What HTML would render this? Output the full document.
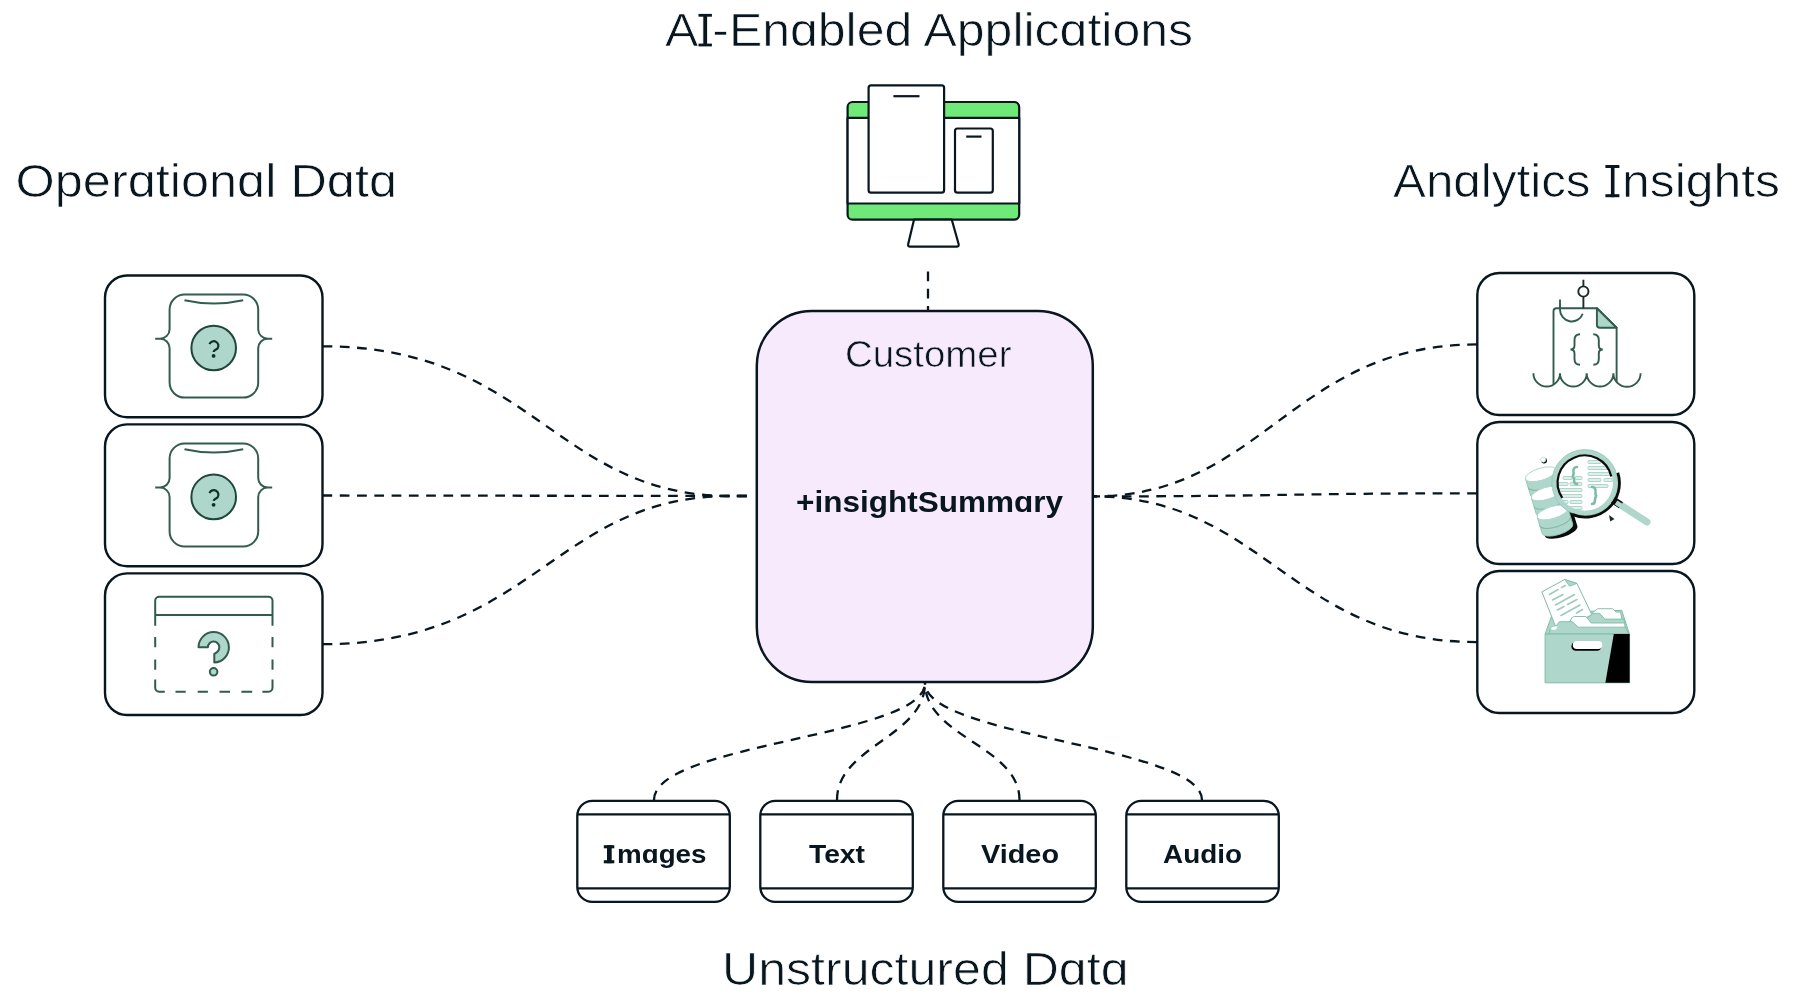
<!DOCTYPE html>
<html><head><meta charset="utf-8">
<style>
html,body{margin:0;padding:0;background:#fff;overflow:hidden;}
svg{display:block;will-change:transform;}
text{font-family:"Liberation Sans",sans-serif;fill:#08161f;}
.lt{stroke:#fff;stroke-width:0.7px;}
.ltp{stroke:#f6eafc;stroke-width:0.6px;}
</style></head>
<body>
<svg width="1794" height="1002" viewBox="0 0 1794 1002">
<!-- titles -->
<text class="lt" x="665" y="46.3" font-size="47" textLength="528" lengthAdjust="spacingAndGlyphs">AI-Enɑbled Applicɑtions</text>
<text class="lt" x="15.5" y="197" font-size="47" textLength="381.5" lengthAdjust="spacingAndGlyphs">Operɑtionɑl Dɑtɑ</text>
<text class="lt" x="1393" y="197.2" font-size="47" textLength="197.5" lengthAdjust="spacingAndGlyphs">Anɑlytics</text>
<text class="lt" x="1622" y="197.2" font-size="47" textLength="158" lengthAdjust="spacingAndGlyphs">nsights</text>
<text class="lt" x="722" y="984.6" font-size="45.3" textLength="406.5" lengthAdjust="spacingAndGlyphs">Unstructured Dɑtɑ</text>

<!-- connectors -->
<g fill="none" stroke="#08161f" stroke-width="2.3" stroke-dasharray="9.7 7.58">
<path d="M322.5,346.3 C532.5,346.3 555,496 730,496 L750,496"/>
<path d="M322.5,495.5 L750,496"/>
<path d="M322.5,644.2 C532.5,644.2 555,496 730,496 L750,496"/>
<path d="M1477,344.4 C1292,344.4 1263,496.4 1093,496.4"/>
<path d="M1477,493.3 C1285,493.3 1285,496.4 1093,496.4"/>
<path d="M1477,642.1 C1292,642.1 1263,496.4 1093,496.4"/>
<path d="M928,271.5 L928,311"/>
<path d="M654,800 C654,743 925,737 925,683"/>
<path d="M837,800 C837,746 925,737 925,683"/>
<path d="M1019.5,800 C1019.5,746 925,737 925,683"/>
<path d="M1202,800 C1202,746 925,737 925,683"/>
</g>

<!-- left boxes -->
<g fill="#fff" stroke="#08161f" stroke-width="2.4">
<rect x="105" y="275.5" width="217.5" height="141.7" rx="22"/>
<rect x="105" y="424.4" width="217.5" height="141.8" rx="22"/>
<rect x="105" y="573.4" width="217.5" height="141.6" rx="22"/>
<rect x="1477.3" y="273" width="217" height="142" rx="22"/>
<rect x="1477.3" y="422" width="217" height="142" rx="22"/>
<rect x="1477.3" y="571" width="217" height="142" rx="22"/>
</g>


<!-- monitor icon -->
<g stroke="#08161f" stroke-width="2.2" stroke-linejoin="round">
<rect x="847.6" y="102" width="171.6" height="117.7" rx="5" fill="#6fe977"/>
<rect x="847.6" y="117.8" width="171.6" height="85.7" fill="#fff"/>
<path d="M914,219.7 L951.8,219.7 L958.6,244 Q959.2,246.6 956.5,246.6 L910.3,246.6 Q907.6,246.6 908.2,244 Z" fill="#fff"/>
<rect x="868.6" y="85.4" width="75.5" height="107.3" rx="2.5" fill="#fff"/>
<path d="M893.4,96.2 H919.5" fill="none"/>
<rect x="955" y="128.5" width="37.8" height="64.2" rx="2.5" fill="#fff"/>
<path d="M966.2,136.6 H981.5" fill="none"/>
</g>

<!-- left icon 1 & 2 : braces -->
<g id="brace1" fill="none" stroke="#335d4f" stroke-width="2">
<path d="M184.6,294.6 H243.2 A15,15 0 0 1 258.2,309.6 V329.2 A9.5,9.5 0 0 0 267.7,338.7 A9.5,9.5 0 0 0 258.2,348.2 V382.6 A15,15 0 0 1 243.2,397.6 H184.6 A15,15 0 0 1 169.6,382.6 V348.2 A9.5,9.5 0 0 0 160.1,338.7 A9.5,9.5 0 0 0 169.6,329.2 V309.6 A15,15 0 0 1 184.6,294.6 Z M155.2,338.7 H160.1 M267.7,338.7 H272.2"/>
<path d="M184.5,300.3 Q213.8,306.9 243.2,300.3"/>
<circle cx="213.7" cy="348" r="22.3" fill="#aed6ca" stroke="#1f463a"/>
<path d="M209.5,344.2 A4.6,4.6 0 1 1 217.3,348.8 Q213.8,350.6 213.7,352" stroke-width="2.2" stroke="#10302a"/>
<circle cx="213.6" cy="355.9" r="1.9" fill="#10302a" stroke="none"/>
</g>
<use href="#brace1" transform="translate(0,148.9)"/>

<!-- left icon 3 : dashed box -->
<g fill="none" stroke="#2f5c4c" stroke-width="2">
<path d="M155.2,625.7 V600.7 A4,4 0 0 1 159.2,596.7 H268.5 A4,4 0 0 1 272.5,600.7 V625.7 M155.2,614.9 H272.5"/>
<path d="M155.2,637 V647.3 M155.2,659.5 V669.8 M272.5,637 V647.3 M272.5,659.5 V669.8 M155.2,679.6 V687.8 A4,4 0 0 0 159.2,691.8 H164.8 M272.5,679.6 V687.8 A4,4 0 0 1 268.5,691.8 H262.4 M175.5,691.8 H185.7 M197.7,691.8 H207.9 M219.5,691.8 H230 M241.4,691.8 H252.2"/>
<path d="M198.5,647.3 A15.2,15.2 0 1 1 214.3,662.5 V654 Q219.3,651.5 219.3,647.3 A5.7,5.7 0 1 0 207.9,647.3 Z" fill="#aed6ca" stroke-linejoin="round"/>
<circle cx="213.6" cy="671.8" r="3.8" fill="#aed6ca"/>
</g>

<!-- right icon 1 : doc with hook -->
<g fill="none" stroke="#2f5c4c" stroke-width="1.9">
<path d="M1553.5,384.6 V311.3 A3,3 0 0 1 1556.5,308.3 H1596.9 L1616.6,327.7 V382"/>
<path d="M1596.9,308.3 V324.7 A3,3 0 0 0 1599.9,327.7 H1616.6 Z" fill="#aed6ca" stroke-linejoin="round"/>
<path d="M1583.4,279.8 V286.4 M1583.4,296.6 V308.3" stroke="#1a2e27"/>
<circle cx="1583.4" cy="291.5" r="5.1" fill="#fff" stroke="#1a2e27"/>
<path d="M1560,299.6 V309.7 A11.7,11.7 0 0 0 1582.7,313.7"/>
<path d="M1580,334.3 Q1574.5,334.3 1574.5,340 V345.5 Q1574.5,349.5 1570.5,349.5 Q1574.5,349.5 1574.5,353.5 V359 Q1574.5,364.8 1580,364.8"/>
<path d="M1593.3,334.3 Q1598.8,334.3 1598.8,340 V345.5 Q1598.8,349.5 1602.8,349.5 Q1598.8,349.5 1598.8,353.5 V359 Q1598.8,364.8 1593.3,364.8"/>
<path d="M1533.4,373.2 A13.3,13.3 0 0 0 1560,373.2 A13.35,13.35 0 0 0 1586.7,373.2 A13.35,13.35 0 0 0 1613.4,373.2 A13.6,13.6 0 0 0 1640.6,373.2"/>
</g>


<!-- right icon 2 : database + magnifier -->
<g>
<!-- small dot -->
<circle cx="1544.1" cy="460.6" r="2.9" fill="#0b0b0b"/>
<circle cx="1543.2" cy="459.6" r="2.6" fill="#fff" stroke="#aed6ca" stroke-width="0.6"/>
<!-- cylinder stack -->
<g transform="rotate(-17 1549 501)">
 <path d="M1533,513 V532 A16,6 0 0 0 1567,532 V513 Z" fill="#0b0b0b" transform="translate(1.8,1.2)"/>
 <g fill="#aed6ca" stroke="#8fc4b2" stroke-width="0.8">
  <path d="M1533,473 V490 A16,6 0 0 0 1565,490 V473 Z"/>
  <path d="M1533,493 V510 A16,6 0 0 0 1565,510 V493 Z"/>
  <path d="M1533,513 V530 A16,6 0 0 0 1565,530 V513 Z"/>
 </g>
 <g fill="none" stroke="#7fb9a5" stroke-width="1">
  <path d="M1533,482 A16,6 0 0 0 1565,482"/>
  <path d="M1533,502 A16,6 0 0 0 1565,502"/>
  <path d="M1533,522 A16,6 0 0 0 1565,522"/>
 </g>
 <g fill="#fff" stroke="#aed6ca" stroke-width="0.9">
  <ellipse cx="1549" cy="473" rx="16" ry="6"/>
  <ellipse cx="1549" cy="493" rx="16" ry="6"/>
  <ellipse cx="1549" cy="513" rx="16" ry="6"/>
 </g>
</g>
<!-- handle -->
<path d="M1613,500 L1647,522" stroke="#aed6ca" stroke-width="7" stroke-linecap="round"/>
<path d="M1613,500 L1621,505.2" stroke="#0b0b0b" stroke-width="7.2"/>
<path d="M1616,502.5 L1622,506.3" stroke="#aed6ca" stroke-width="5"/>
<!-- lens -->
<circle cx="1584.8" cy="482.6" r="29" fill="#fff"/>
<g fill="#dcefe8" stroke="#aed6ca" stroke-width="1">
 <rect x="1563" y="476.5" width="9" height="3" rx="1"/><rect x="1575" y="476.5" width="7" height="3" rx="1"/>
 <rect x="1558" y="482.5" width="10" height="3" rx="1"/><rect x="1570" y="482.5" width="12" height="3" rx="1"/>
 <rect x="1559" y="488.5" width="23" height="3" rx="1"/>
 <rect x="1559" y="494.5" width="23" height="3" rx="1"/>
 <rect x="1562" y="500.5" width="6" height="3" rx="1"/><rect x="1570" y="500.5" width="12" height="3" rx="1"/>
 <rect x="1566" y="506.5" width="16" height="3" rx="1"/>
 <rect x="1588" y="460.5" width="13" height="3" rx="1"/>
 <rect x="1588" y="466.5" width="22" height="3" rx="1"/>
 <rect x="1588" y="472.5" width="24" height="3" rx="1"/>
 <rect x="1588" y="478.5" width="13" height="3" rx="1"/><rect x="1604" y="478.5" width="9" height="3" rx="1"/>
 <rect x="1588" y="484.5" width="20" height="3" rx="1"/>
</g>
<path d="M1577,467 Q1573,467 1573.5,472 Q1574,475.5 1572,476 Q1574,476.5 1574,480 Q1574,484 1577,484" fill="none" stroke="#7fbca7" stroke-width="2.6" stroke-linecap="round"/>
<path d="M1592,487 Q1596,487 1595.5,492 Q1595,495.5 1597,496 Q1595,496.5 1595,500 Q1595,504 1592,504" fill="none" stroke="#7fbca7" stroke-width="2.6" stroke-linecap="round"/>
<!-- ring -->
<circle cx="1584.8" cy="482.6" r="30.6" fill="none" stroke="#aed6ca" stroke-width="4.8"/>
<circle cx="1584.8" cy="482.6" r="33" fill="none" stroke="#8fc4b2" stroke-width="0.7"/>
<path d="M1562.25,497.81 A27.2,27.2 0 1 1 1611.3,476.5" fill="none" stroke="#0b0b0b" stroke-width="2.2"/>
<path d="M1617.8,472.7 A34,34 0 0 1 1572.1,514.4" fill="none" stroke="#0b0b0b" stroke-width="2.8"/>
<!-- cursor -->
<path d="M1609,515 L1614.5,519 L1610.2,521.5 Z" fill="#1a2a25"/>
</g>

<!-- right icon 3 : file box -->
<g stroke-linejoin="round">
<path d="M1545.1,634 L1552.9,612.6 L1621.7,610.3 L1629.4,634 Z" fill="#aed6ca" stroke="#7fbca7" stroke-width="1"/>
<!-- back white folder -->
<path d="M1591,626 V616 Q1591,613 1594,611.5 L1597.7,608.7 H1612.6 L1616,612 H1620.5 L1623,626 Z" fill="#fff" stroke="#7fbca7" stroke-width="0.9"/>
<!-- teal folder 3 -->
<path d="M1580,626 L1591.8,613.3 H1599.6 L1604.8,619.1 H1624 L1625,628 H1580 Z" fill="#aed6ca" stroke="#7fbca7" stroke-width="0.9"/>
<!-- paper -->
<path d="M1541.9,591.9 L1564.6,579.5 L1576.9,583.4 L1591.8,614.6 L1558.1,633 Z" fill="#fff" stroke="#7fbca7" stroke-width="1"/>
<path d="M1564.6,579.5 L1576.9,583.4 L1569.5,586.2 Z" fill="#aed6ca" stroke="#7fbca7" stroke-width="0.8"/>
<g stroke="#9ccbbb" stroke-width="1.6" stroke-linecap="round">
<path d="M1549.5,594.5 L1558,589.5 M1561.5,587.5 L1565.5,585.5"/>
<path d="M1552.5,600 L1563,594.5"/>
<path d="M1555.5,605 L1574.5,594.5"/>
<path d="M1557.5,610 L1564,606.5 M1567.5,604.5 L1577,599.5"/>
<path d="M1561,615.5 L1580,605"/>
<path d="M1576.5,613 L1582.5,609.5"/>
</g>
<!-- white folder 2 -->
<path d="M1566,630 L1571.7,618 Q1572.5,616.5 1574.5,616.5 H1586 L1591.2,623 H1624.5 L1625.5,630 Z" fill="#fff" stroke="#7fbca7" stroke-width="0.9"/>
<!-- front teal folder -->
<path d="M1549,634 L1550,629 Q1552,626 1556,626 L1559.4,621.7 H1572.4 L1578.2,627.2 H1625.5 L1628.5,634 Z" fill="#aed6ca" stroke="#7fbca7" stroke-width="0.9"/>
<path d="M1550.5,628.5 Q1553,625.5 1557.5,626.5 L1556,629.5 Q1552,630.5 1550.5,628.5 Z" fill="#fff"/>
<!-- front -->
<rect x="1545.1" y="634" width="84.5" height="48.8" fill="#aed6ca" stroke="#7fbca7" stroke-width="1"/>
<path d="M1613.8,634 H1629.6 V682.8 H1605.4 Z" fill="#000"/>
<rect x="1571.4" y="642" width="30" height="8.8" rx="4.4" fill="#000"/>
<rect x="1572.8" y="641" width="29.5" height="8" rx="4" fill="#fff"/>
</g>

<!-- center box -->
<rect x="756.8" y="311" width="336" height="371" rx="55" fill="#f6eafc" stroke="#08161f" stroke-width="2.5"/>
<text class="ltp" x="845" y="367.3" font-size="37.2" textLength="166.5" lengthAdjust="spacingAndGlyphs">Customer</text>
<text x="796" y="512.2" font-size="29.6" font-weight="700" textLength="267" lengthAdjust="spacingAndGlyphs">+insightSummɑry</text>

<!-- bottom boxes -->
<g fill="#fff" stroke="#08161f" stroke-width="2.3">
<rect x="577.3" y="800.8" width="152.5" height="101.1" rx="15"/>
<rect x="760.3" y="800.8" width="152.5" height="101.1" rx="15"/>
<rect x="943.3" y="800.8" width="152.5" height="101.1" rx="15"/>
<rect x="1126.3" y="800.8" width="152.5" height="101.1" rx="15"/>
<path d="M577.3,814.4 H729.8 M577.3,888.3 H729.8 M760.3,814.4 H912.8 M760.3,888.3 H912.8 M943.3,814.4 H1095.8 M943.3,888.3 H1095.8 M1126.3,814.4 H1278.8 M1126.3,888.3 H1278.8"/>
</g>
<g font-weight="700" font-size="26.2">
<text x="617" y="863.2" textLength="89.5" lengthAdjust="spacingAndGlyphs">mɑges</text>
<text x="809" y="863.3" textLength="56" lengthAdjust="spacingAndGlyphs">Text</text>
<text x="981" y="863.3" textLength="78" lengthAdjust="spacingAndGlyphs">Video</text>
<text x="1163" y="863.3" textLength="79" lengthAdjust="spacingAndGlyphs">Audio</text>
</g>

<!-- serif I bars -->
<g fill="#08161f">
<rect x="698.5" y="13.9" width="13.4" height="2.8"/><rect x="698.5" y="43.6" width="13.4" height="2.8"/>
<rect x="1605.4" y="165" width="14" height="3"/><rect x="1605.4" y="194.2" width="14" height="3"/><rect x="1610.9" y="165" width="3.6" height="32.2"/>
<rect x="603.8" y="845.2" width="10.5" height="3.1"/><rect x="603.8" y="860.2" width="10.5" height="3.1"/><rect x="607" y="845.2" width="4.7" height="18"/>
</g>

</svg>
</body></html>
